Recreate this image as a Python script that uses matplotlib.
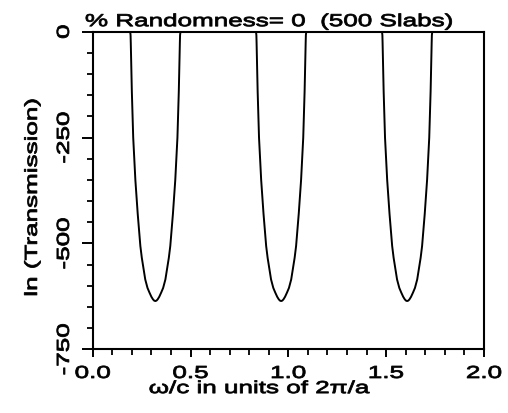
import numpy as np
import matplotlib
matplotlib.use("Agg")
import matplotlib.pyplot as plt
from matplotlib.ticker import MultipleLocator
from matplotlib.patheffects import AbstractPathEffect
from matplotlib.transforms import Affine2D

# ---- data: frequency (units of 2*pi/a) vs ln(Transmission)
freq = [0.000,
        # gap 1
        0.189, 0.192, 0.1935, 0.1945, 0.200, 0.207, 0.218, 0.230, 0.2435, 0.251,
        0.2685, 0.280, 0.290, 0.300, 0.308, 0.314, 0.320,
        0.326, 0.332, 0.340, 0.350, 0.360, 0.3715, 0.389, 0.3965, 0.410, 0.422,
        0.433, 0.440, 0.4455, 0.4465, 0.448, 0.451,
        # gap 2
        0.832, 0.835, 0.8365, 0.8375, 0.843, 0.850, 0.861, 0.873, 0.8865, 0.894,
        0.9115, 0.923, 0.933, 0.943, 0.951, 0.957, 0.963,
        0.969, 0.975, 0.983, 0.993, 1.003, 1.0145, 1.032, 1.0395, 1.053, 1.065,
        1.076, 1.083, 1.0885, 1.0895, 1.091, 1.094,
        # gap 3
        1.476, 1.479, 1.4805, 1.4815, 1.487, 1.494, 1.505, 1.517, 1.5305, 1.538,
        1.5555, 1.567, 1.577, 1.587, 1.595, 1.601, 1.607,
        1.613, 1.619, 1.627, 1.637, 1.647, 1.6585, 1.676, 1.6835, 1.697, 1.709,
        1.720, 1.727, 1.7325, 1.7335, 1.735, 1.738,
        2.000]
ln_trans = [0,
            0, -2, -8, -25, -141, -250, -350, -430, -506, -534,
            -585, -605, -616, -626, -632, -635, -636,
            -635, -632, -626, -616, -605, -585, -534, -506, -430, -350,
            -250, -141, -25, -8, -2, 0,
            0, -2, -8, -25, -141, -250, -350, -430, -506, -534,
            -585, -605, -616, -626, -632, -635, -636,
            -635, -632, -626, -616, -605, -585, -534, -506, -430, -350,
            -250, -141, -25, -8, -2, 0,
            0, -2, -8, -25, -141, -250, -350, -430, -506, -534,
            -585, -605, -616, -626, -632, -635, -636,
            -635, -632, -626, -616, -605, -585, -534, -506, -430, -350,
            -250, -141, -25, -8, -2, 0,
            0]

title = "% Randomness= 0  (500 Slabs)"
xlabel = "\u03c9/c in units of 2\u03c0/a"
ylabel = "ln (Transmission)"
xticks = [0.0, 0.5, 1.0, 1.5, 2.0]
xticklabels = ["0.0", "0.5", "1.0", "1.5", "2.0"]
yticks = [0, -250, -500, -750]
yticklabels = ["0", "-250", "-500", "-750"]


class HStretch(AbstractPathEffect):
    """Widen (and slightly embolden) glyphs along the text direction."""
    def __init__(self, sx, stroke=0.6):
        super().__init__()
        self.sx = sx
        self.stroke = stroke

    def draw_path(self, renderer, gc, tpath, affine, rgbFace=None):
        ext = tpath.get_extents()
        cx = 0.5 * (ext.x0 + ext.x1)
        t = Affine2D().translate(-cx, 0).scale(self.sx, 1).translate(cx, 0) + affine
        gc0 = renderer.new_gc()
        gc0.copy_properties(gc)
        gc0.set_linewidth(self.stroke)
        gc0.set_foreground(rgbFace if rgbFace is not None else "black")
        renderer.draw_path(gc0, tpath, t, rgbFace)
        gc0.restore()


plt.rcParams['font.family'] = ['Liberation Sans', 'DejaVu Sans']
FS = 12.5
stretch = [HStretch(1.5)]

fig = plt.figure(figsize=(5.08, 4.13), dpi=100)
ax = fig.add_axes([0.1825, 0.1542, 0.9528 - 0.1825, 0.9232 - 0.1542])

ax.plot(freq, ln_trans, color="black", lw=1.4, solid_joinstyle="round")

ax.set_xlim(0, 2.0)
ax.set_ylim(-750, 0)

ax.set_xticks(xticks)
xtl = ax.set_xticklabels(xticklabels, fontsize=FS)
ax.set_yticks(yticks)
ytl = ax.set_yticklabels(yticklabels, fontsize=FS, rotation=90, va="center")
ax.xaxis.set_minor_locator(MultipleLocator(0.1))
ax.yaxis.set_minor_locator(MultipleLocator(50))
ax.tick_params(axis="x", which="major", direction="out", length=6, width=1.4, pad=6)
ax.tick_params(axis="y", which="major", direction="out", length=8, width=1.4, pad=7)
ax.tick_params(which="minor", direction="out", length=4.5, width=1.3)
ax.tick_params(top=False, right=False)
for t in list(xtl) + list(ytl):
    t.set_path_effects(stretch)

for s in ax.spines.values():
    s.set_linewidth(1.5)

xl = ax.set_xlabel(xlabel, fontsize=FS)
ax.xaxis.set_label_coords(0.4267, -0.10)
xl.set_path_effects(stretch)

yl = ax.set_ylabel(ylabel, fontsize=FS)
ax.yaxis.set_label_coords(-0.135, 0.48)
yl.set_path_effects(stretch)

tt = ax.set_title(title, fontsize=FS, pad=4)
tt.set_x(0.452)
tt.set_path_effects(stretch)

fig.savefig("out.png", dpi=100)
